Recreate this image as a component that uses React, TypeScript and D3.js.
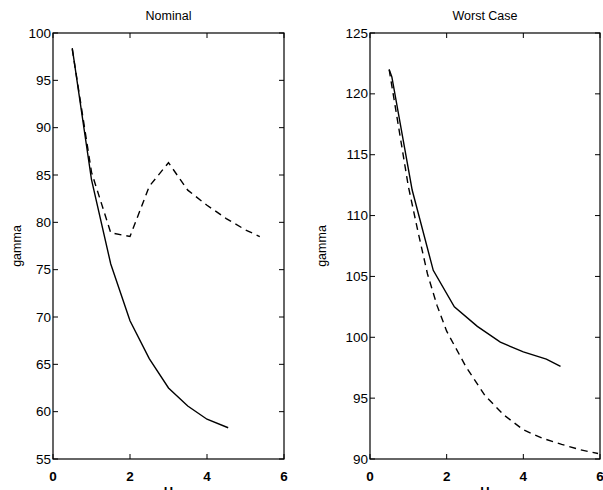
import React from 'react';
import * as d3 from 'd3';

const width = 603, height = 490;
const top = 33, bottom = 459;

// Nominal panel
const nomSolidH = [0.5, 1.0, 1.5, 2.0, 2.5, 3.0, 3.5, 4.0, 4.55];
const nomSolidGamma = [98.4, 84.5, 75.6, 69.6, 65.6, 62.5, 60.6, 59.2, 58.3];
const nomDashH = [0.5, 1.0, 1.5, 2.0, 2.5, 3.0, 3.5, 4.0, 4.5, 5.0, 5.37];
const nomDashGamma = [98.3, 85.3, 78.9, 78.5, 83.8, 86.3, 83.4, 81.8, 80.4, 79.2, 78.5];

// Worst case panel
const worstSolidH = [0.5, 0.57, 1.1, 1.65, 2.2, 2.8, 3.4, 4.0, 4.6, 4.97];
const worstSolidGamma = [122.0, 121.4, 112.1, 105.5, 102.5, 100.9, 99.6, 98.8, 98.2, 97.6];
const worstDashH = [0.5, 0.75, 1.0, 1.25, 1.5, 1.75, 2.0, 2.5, 3.0, 3.5, 4.0, 4.5, 5.0, 5.5, 5.95];
const worstDashGamma = [122.0, 117.2, 112.4, 108.7, 105.2, 102.6, 100.5, 97.6, 95.2, 93.6, 92.4, 91.7, 91.2, 90.75, 90.45];

const xTicks = [0, 2, 4, 6];
const nomYTicks = [55, 60, 65, 70, 75, 80, 85, 90, 95, 100];
const worstYTicks = [90, 95, 100, 105, 110, 115, 120, 125];

const font = '"Liberation Sans", Arial, sans-serif';

type Series = { h: number[]; g: number[]; dashed: boolean };

// one MATLAB-style boxed panel with inward ticks
function Panel({ left, right, title, yDomain, yTicks, series, ylabelX }: {
    left: number; right: number; title: string; yDomain: [number, number];
    yTicks: number[]; series: Series[]; ylabelX: number;
}) {
    const x = d3.scaleLinear().domain([0, 6]).range([left, right]);
    const y = d3.scaleLinear().domain(yDomain).range([bottom, top]);
    const line = d3.line<[number, number]>().x(d => x(d[0])).y(d => y(d[1]));
    const tick = 5;
    const cx = (left + right) / 2;
    return (
        <g>
            {series.map((s, i) => (
                <path key={i} d={line(s.h.map((h, j) => [h, s.g[j]] as [number, number])) || ''}
                    fill="none" stroke="#000" strokeWidth={1.4}
                    strokeDasharray={s.dashed ? '7,5' : undefined} />
            ))}
            <rect x={left} y={top} width={right - left} height={bottom - top}
                fill="none" stroke="#000" strokeWidth={1.2} />
            {xTicks.map(t => (
                <g key={'x' + t}>
                    <line x1={x(t)} x2={x(t)} y1={bottom} y2={bottom - tick} stroke="#000" />
                    <line x1={x(t)} x2={x(t)} y1={top} y2={top + tick} stroke="#000" />
                    <text x={x(t)} y={481} textAnchor="middle" fontSize={13.5}
                        fontFamily={font} fontWeight="bold">{t}</text>
                </g>
            ))}
            {yTicks.map(t => (
                <g key={'y' + t}>
                    <line x1={left} x2={left + tick} y1={y(t)} y2={y(t)} stroke="#000" />
                    <line x1={right} x2={right - tick} y1={y(t)} y2={y(t)} stroke="#000" />
                    <text x={left - 2} y={y(t) + 4.5} textAnchor="end" fontSize={13.5}
                        fontFamily={font}>{t}</text>
                </g>
            ))}
            <text x={cx} y={20} textAnchor="middle" fontSize={12.5} fontFamily={font}>{title}</text>
            <text x={cx} y={496} textAnchor="middle" fontSize={13} fontFamily={font} fontWeight="bold">H</text>
            <text transform={`translate(${ylabelX},${(top + bottom) / 2}) rotate(-90)`}
                textAnchor="middle" dominantBaseline="middle" fontSize={12.5} fontFamily={font}>gamma</text>
        </g>
    );
}

export default function App() {
    return (
        <svg width={width} height={height} viewBox={`0 0 ${width} ${height}`}
            style={{ position: 'absolute', left: 0, top: 0, background: '#fff' }}>
            <rect width={width} height={height} fill="#fff" />
            <Panel left={53} right={284} title="Nominal" yDomain={[55, 100]} yTicks={nomYTicks}
                ylabelX={18}
                series={[
                    { h: nomSolidH, g: nomSolidGamma, dashed: false },
                    { h: nomDashH, g: nomDashGamma, dashed: true },
                ]} />
            <Panel left={370} right={600} title="Worst Case" yDomain={[90, 125]} yTicks={worstYTicks}
                ylabelX={323}
                series={[
                    { h: worstSolidH, g: worstSolidGamma, dashed: false },
                    { h: worstDashH, g: worstDashGamma, dashed: true },
                ]} />
        </svg>
    );
}
